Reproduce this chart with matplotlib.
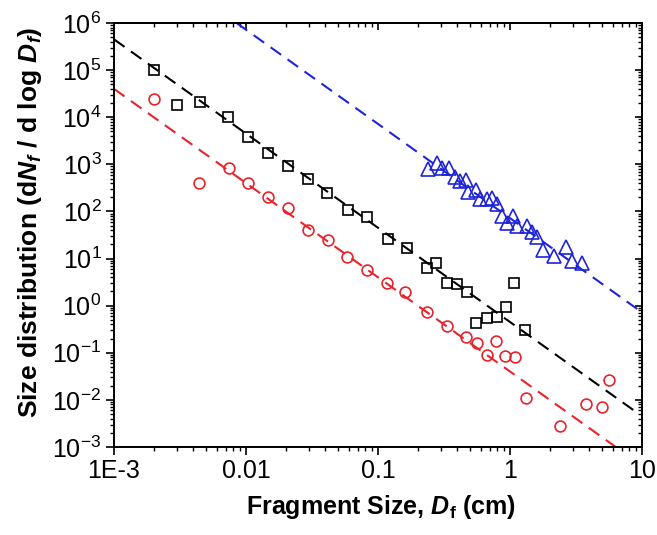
import numpy as np
import matplotlib
matplotlib.use("Agg")
import matplotlib.pyplot as plt
from matplotlib.ticker import LogLocator, FixedLocator, FixedFormatter, NullFormatter

plt.rcParams['font.family'] = ['Liberation Sans', 'DejaVu Sans']
plt.rcParams['mathtext.fontset'] = 'custom'
plt.rcParams['mathtext.rm'] = 'Liberation Sans'
plt.rcParams['mathtext.it'] = 'Liberation Sans:italic'
plt.rcParams['mathtext.bf'] = 'Liberation Sans:bold'
plt.rcParams['mathtext.bfit'] = 'Liberation Sans:bold:italic'

# fragment size (cm) and size distribution for the three data sets
black_x = [0.0020, 0.0030, 0.0045, 0.0073, 0.0103, 0.0146, 0.0209, 0.0293, 0.0413, 0.0589,
           0.0826, 0.119, 0.165, 0.234, 0.275, 0.331, 0.394, 0.470, 0.552, 0.665,
           0.80, 0.94, 1.08, 1.30]
black_y = [1.0e5, 1.8e4, 2.07e4, 1.0e4, 3.85e3, 1.71e3, 934, 487, 242, 107,
           75, 26, 16.5, 6.2, 7.9, 2.97, 2.83, 1.97, 0.43, 0.55,
           0.58, 0.95, 2.97, 0.30]

red_x = [0.0020, 0.0044, 0.0074, 0.0104, 0.0146, 0.0209, 0.0297, 0.0416, 0.058, 0.082,
         0.116, 0.160, 0.234, 0.331, 0.465, 0.56, 0.665, 0.78, 0.916, 1.09,
         1.32, 2.39, 3.77, 4.95, 5.63]
red_y = [2.43e4, 406, 822, 395, 205, 116, 40, 24.7, 10.9, 5.7,
         2.97, 1.97, 0.74, 0.37, 0.219, 0.158, 0.089, 0.177, 0.085, 0.082,
         0.0108, 0.0028, 0.0081, 0.0071, 0.027]

blue_x = [0.240, 0.281, 0.303, 0.347, 0.383, 0.418, 0.464, 0.483, 0.553, 0.592,
          0.666, 0.726, 0.793, 0.865, 0.944, 1.06, 1.135, 1.34, 1.46, 1.61,
          1.79, 2.15, 2.66, 2.93, 3.49]
blue_y = [783, 1081, 822, 822, 530, 443, 464, 262, 284, 181,
          181, 190, 144, 80, 56, 80, 49, 49, 37, 29,
          15, 11.3, 17.8, 9.0, 7.9]

# power-law fits  y = A * x**b  and the x range each one is drawn over
black_fit = (0.45, -2.0, 1e-3, 9.0)
red_fit = (0.04, -2.0, 1e-3, 10.0)
blue_fit = (72.0, -2.0, 8.5e-3, 10.0)

x_ticks = [1e-3, 1e-2, 1e-1, 1, 10]
x_ticklabels = ["1E-3", "0.01", "0.1", "1", "10"]

RED = "#e8232b"
BLUE = "#1f24d6"

fig = plt.figure(figsize=(6.57, 5.35), dpi=100)
ax = fig.add_axes([0.1735, 0.1645, 0.8037, 0.7925])

for (a, b, x0, x1), c in [(blue_fit, BLUE), (black_fit, "black"), (red_fit, RED)]:
    xs = np.array([x0, x1])
    ax.plot(xs, a * xs ** b, color=c, lw=1.5, dashes=(6.2, 3.8), zorder=2)

ax.plot(black_x, black_y, ls="none", marker="s", ms=7.2, mfc="none", mec="black", mew=1.2, zorder=3)
ax.plot(red_x, red_y, ls="none", marker="o", ms=7.8, mfc="none", mec=RED, mew=1.2, zorder=3)
ax.plot(blue_x, blue_y, ls="none", marker="^", ms=9.5, mfc="none", mec=BLUE, mew=1.2, zorder=3)

ax.set_xscale("log")
ax.set_yscale("log")
ax.set_xlim(1e-3, 10)
ax.set_ylim(1e-3, 1e6)

ax.xaxis.set_major_locator(FixedLocator(x_ticks))
ax.xaxis.set_major_formatter(FixedFormatter(x_ticklabels))
ax.xaxis.set_minor_locator(LogLocator(base=10, subs=np.arange(2, 10), numticks=20))
ax.xaxis.set_minor_formatter(NullFormatter())
ax.yaxis.set_major_locator(LogLocator(base=10, numticks=20))
ax.yaxis.set_minor_locator(LogLocator(base=10, subs=np.arange(2, 10), numticks=20))
ax.yaxis.set_minor_formatter(NullFormatter())

for s in ax.spines.values():
    s.set_linewidth(1.4)
ax.tick_params(which="major", direction="out", length=6, width=1.2, labelsize=18, pad=3)
ax.tick_params(which="minor", direction="out", length=3, width=1.0)

# mirrored ticks on top and right point into the plot
top = ax.secondary_xaxis("top")
right = ax.secondary_yaxis("right")
for sec, axis in [(top, top.xaxis), (right, right.yaxis)]:
    axis.set_major_locator(LogLocator(base=10, numticks=20))
    axis.set_minor_locator(LogLocator(base=10, subs=np.arange(2, 10), numticks=20))
    axis.set_major_formatter(NullFormatter())
    axis.set_minor_formatter(NullFormatter())
    sec.tick_params(which="major", direction="in", length=5, width=1.2)
    sec.tick_params(which="minor", direction="in", length=3, width=1.0)
    for s in sec.spines.values():
        s.set_linewidth(1.4)

fig.text(0.58, 0.0523, r"Fragment Size, $\mathbfit{D}_\mathbf{f}$ (cm)",
         fontsize=18, fontweight="bold", ha="center", va="center")
fig.text(0.0457, 0.584, r"Size distribution (d$\mathbfit{N}_\mathbfit{f}$ / d log $\mathbfit{D}_\mathbfit{f}$)",
         fontsize=19, fontweight="bold", ha="center", va="center", rotation=90)

fig.savefig("out.png", dpi=100)
